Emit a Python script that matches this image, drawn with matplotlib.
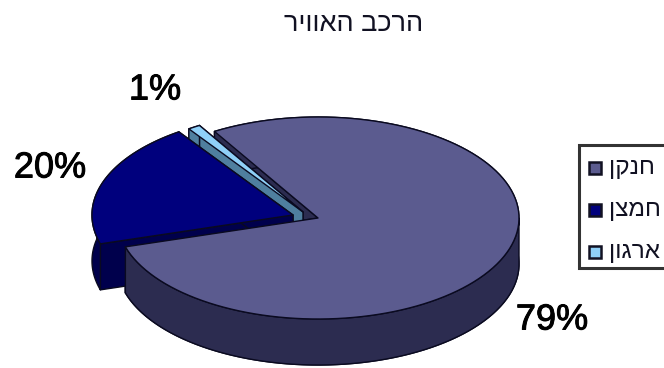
import numpy as np
import matplotlib.pyplot as plt
import matplotlib.patheffects as pe
from matplotlib.patches import Polygon, Rectangle

# Air composition
gases = ["חנקן", "חמצן", "ארגון"]
shares = [79, 20, 1]
colors = ["#5b5b8f", "#00007d", "#8fd0f8"]
wall_colors = ["#2c2c50", "#00004c", "#4f7f9f"]
title = "הרכב האוויר"

plt.rcParams["font.family"] = ["Liberation Sans", "DejaVu Sans"]

fig = plt.figure(figsize=(6.64, 3.68), dpi=100)
ax = fig.add_axes([0, 0, 1, 1])
ax.set_xlim(0, 664)
ax.set_ylim(368, 0)
ax.axis("off")

rx, ry, depth = 201, 101, 46
start_angle = 121
centers = [(318, 218), (293, 215), (303, 212)]


def visual(s):
    # matplotlib has no bidi support, so Hebrew goes in drawing order
    return s[::-1]


def rim(center, a0, a1):
    t = np.radians(np.linspace(a0, a1, 120))
    return np.column_stack([center[0] + rx * np.cos(t), center[1] - ry * np.sin(t)])


def top_face(center, a0, a1):
    return np.vstack([[center], rim(center, a0, a1)])


def add_poly(points, color, z):
    ax.add_patch(Polygon(points, closed=True, facecolor=color, edgecolor="#0a0a20", lw=1.0, joinstyle="round", zorder=z))


def add_walls(center, a0, a1, color, z):
    # both cut faces and the outer wall, swept down by the depth of the pie
    shift = np.array([0, depth])
    for a in (a0, a1):
        edge = np.array([center, rim(center, a, a)[0]])
        add_poly(np.vstack([edge, edge[::-1] + shift]), color, z)
    outer = rim(center, a0, a1)
    add_poly(np.vstack([outer, outer[::-1] + shift]), color, z)


# slice angles run clockwise from the start angle
angles = [start_angle]
for s in shares:
    angles.append(angles[-1] - s * 3.6)

# cut face of the big slice, seen behind the thin one
add_walls(centers[0], angles[0], angles[1], wall_colors[0], 1)

# thin slice, then the pulled out one in front of it
add_walls(centers[2], angles[2], angles[3], wall_colors[2], 2)
add_poly(top_face(centers[2], angles[2], angles[3]), colors[2], 3)
add_walls(centers[1], angles[1], angles[2], wall_colors[1], 4)
add_poly(top_face(centers[1], angles[1], angles[2]), colors[1], 5)

# outer wall and top of the big slice
wall_top = rim(centers[0], 0, angles[1])
add_poly(np.vstack([wall_top, wall_top[::-1] + [0, depth]]), wall_colors[0], 6)
add_poly(top_face(centers[0], angles[0], angles[1]), colors[0], 7)

# percent labels
label_pos = [(552, 320), (50, 168), (155, 90)]
for s, (x, y) in zip(shares, label_pos):
    ax.text(x, y, f"{s}%", fontsize=26, ha="center", va="center", color="#000000", zorder=8,
            path_effects=[pe.withStroke(linewidth=0.7, foreground="#000000")])

ax.text(354, 24, visual(title), fontsize=19.5, ha="center", va="center", color="#111122")

# legend box runs off the right edge
ax.add_patch(Rectangle((579, 145), 100, 123, facecolor="white", edgecolor="#333333", lw=2.2, zorder=8))
legend_y = [168, 210, 252]
for gas, color, y in zip(gases, colors, legend_y):
    ax.add_patch(Rectangle((589, y - 6), 12, 12, facecolor=color, edgecolor="#111122", lw=1.8, zorder=9))
    ax.text(609, y, visual(gas), fontsize=17.5, ha="left", va="center", color="#111122", zorder=9, clip_on=True)

fig.savefig("out.png", dpi=100)
plt.close(fig)
